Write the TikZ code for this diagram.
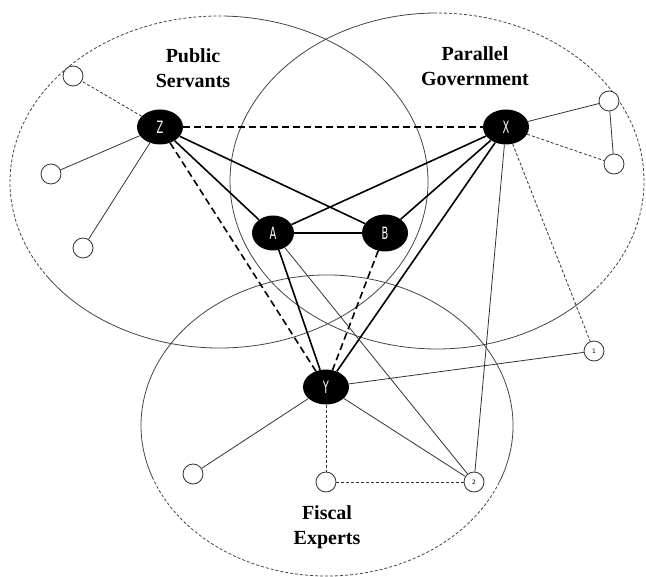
\documentclass[tikz,border=0pt]{standalone}
\usepackage{fontspec}
\setmainfont{Liberation Serif}
\newfontfamily\keyfont{DejaVu Sans}
\usetikzlibrary{shapes.geometric}
\definecolor{ringgray}{HTML}{444444}
\definecolor{thingray}{HTML}{333333}
\tikzset{
  ring/.style={draw=ringgray, line width=0.8pt},
  ringdash/.style={ring, dash pattern=on 3pt off 2pt},
  keynode/.style={ellipse, fill=black, inner sep=0pt, minimum width=46pt, minimum height=35pt,
    text=white, font=\keyfont\fontsize{17}{17}\selectfont},
  minor/.style={circle, draw=thingray, fill=white, line width=0.8pt, minimum size=20pt, inner sep=0pt,
    font=\keyfont\fontsize{6}{6}\selectfont},
  strong/.style={draw=black, line width=1.6pt},
  strongdash/.style={strong, dash pattern=on 7pt off 4pt},
  weak/.style={draw=thingray, line width=0.8pt},
  weakdash/.style={weak, dash pattern=on 3pt off 2pt},
  grouplabel/.style={align=center, font=\bfseries\fontsize{20}{25}\selectfont}
}
\newcommand{\klab}[1]{\scalebox{0.58}[1]{#1}}
\begin{document}
\begin{tikzpicture}[x=1pt,y=-1pt]
\useasboundingbox (0,0) rectangle (646,577);
% group ellipses
\coordinate (E1) at (219,182);
\coordinate (E2) at (437,181);
\coordinate (E3) at (327,425.5);
\draw[ringdash] (E1) ++(88:209pt and 166pt) arc[start angle=88, end angle=215, x radius=209pt, y radius=166pt];
\draw[ring] (E1) ++(215:209pt and 166pt) arc[start angle=215, end angle=448, x radius=209pt, y radius=166pt];
\draw[ringdash] (E2) ++(-41:207pt and 168pt) arc[start angle=-41, end angle=90, x radius=207pt, y radius=168pt];
\draw[ring] (E2) ++(90:207pt and 168pt) arc[start angle=90, end angle=319, x radius=207pt, y radius=168pt];
\draw[ringdash] (E3) ++(200:186pt and 150.5pt) arc[start angle=200, end angle=338, x radius=186pt, y radius=150.5pt];
\draw[ring] (E3) ++(-22:186pt and 150.5pt) arc[start angle=-22, end angle=200, x radius=186pt, y radius=150.5pt];
% group labels
\node[grouplabel] (lps) at (193,68) {Public\\Servants};
\node[grouplabel] (lpg) at (475,66) {Parallel\\Government};
\node[grouplabel] (lfe) at (327,527) {Fiscal\\Experts};
% key actors
\node[keynode] (Z) at (160,127) {\klab{Z}};
\node[keynode] (X) at (506,127) {\klab{X}};
\node[keynode, minimum width=42pt] (A) at (273,233) {\klab{A}};
\node[keynode, minimum height=37pt] (B) at (385,233) {\klab{B}};
\node[keynode] (Y) at (326,387) {\klab{Y}};
% minor actors
\node[minor] (c1) at (73,76) {};
\node[minor] (c2) at (51,174) {};
\node[minor] (c3) at (83,248) {};
\node[minor] (c4) at (609,101) {};
\node[minor] (c5) at (614,164) {};
\node[minor] (n1) at (594,351) {1};
\node[minor] (n2) at (474,482) {2};
\node[minor] (c8) at (193,474) {};
\node[minor] (c9) at (326,482) {};
% strong ties
\draw[strongdash] (Z) -- (X);
\draw[strong] (Z) -- (A);
\draw[strong] (Z) -- (B);
\draw[strongdash] (Z) -- (Y);
\draw[strong] (A) -- (B);
\draw[strong] (A) -- (X);
\draw[strong] (A) -- (Y);
\draw[strong] (B) -- (X);
\draw[strongdash] (B) -- (Y);
\draw[strong] (X) -- (Y);
% weak ties
\draw[weakdash] (Z) -- (c1);
\draw[weak] (Z) -- (c2);
\draw[weak] (Z) -- (c3);
\draw[weak] (X) -- (c4);
\draw[weakdash] (X) -- (c5);
\draw[weak] (c4) -- (c5);
\draw[weakdash] (X) -- (n1);
\draw[weak] (X) -- (n2);
\draw[weak] (A) -- (n2);
\draw[weak] (Y) -- (n1);
\draw[weak] (Y) -- (n2);
\draw[weak] (Y) -- (c8);
\draw[weakdash] (Y) -- (c9);
\draw[weakdash] (c9) -- (n2);
\end{tikzpicture}
\end{document}
